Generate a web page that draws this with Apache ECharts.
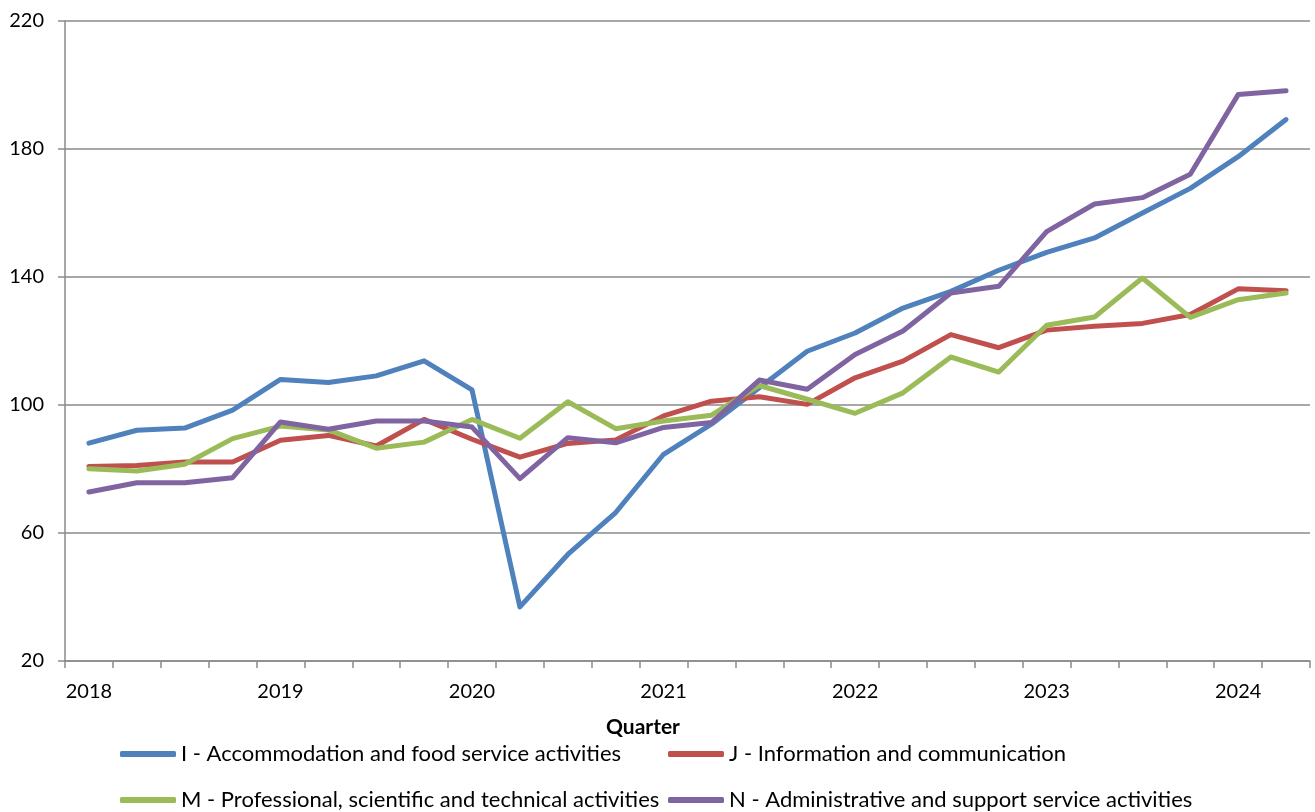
<!DOCTYPE html>
<html>
<head>
<meta charset="utf-8">
<title>Quarterly index</title>
<script src="https://cdn.jsdelivr.net/npm/echarts@6/dist/echarts.min.js"></script>
<style>
    html, body { margin: 0; padding: 0; background: #fff; }
    #main { width: 1315px; height: 812px; }
</style>
</head>
<body>
<div id="main"></div>
<script>
// quarters 2018 Q1 .. 2024 Q2
var quarters = [
    '2018 Q1', '2018 Q2', '2018 Q3', '2018 Q4',
    '2019 Q1', '2019 Q2', '2019 Q3', '2019 Q4',
    '2020 Q1', '2020 Q2', '2020 Q3', '2020 Q4',
    '2021 Q1', '2021 Q2', '2021 Q3', '2021 Q4',
    '2022 Q1', '2022 Q2', '2022 Q3', '2022 Q4',
    '2023 Q1', '2023 Q2', '2023 Q3', '2023 Q4',
    '2024 Q1', '2024 Q2'
];
var seriesNames = [
    'I - Accommodation and food service activities',
    'J - Information and communication',
    'M - Professional, scientific and technical activities',
    'N - Administrative and support service activities'
];
var accommodation = [88.1, 92.1, 92.8, 98.4, 108.0, 107.0, 109.1, 113.8, 104.7, 36.9, 53.3, 66.4, 84.6,
    94.0, 105.4, 116.8, 122.5, 130.3, 135.5, 142.1, 147.7, 152.2, 160.0, 167.7, 177.6, 189.2];
var information = [80.8, 81.1, 82.2, 82.2, 89.0, 90.5, 87.2, 95.5, 89.3, 83.7, 88.0, 89.1, 96.6,
    101.2, 102.6, 100.2, 108.5, 113.7, 122.0, 117.9, 123.4, 124.6, 125.5, 128.3, 136.3, 135.7];
var professional = [80.1, 79.4, 81.5, 89.5, 93.4, 92.2, 86.5, 88.4, 95.5, 89.6, 101.0, 92.6, 95.0,
    96.8, 106.1, 101.8, 97.4, 103.8, 115.0, 110.3, 124.9, 127.5, 139.7, 127.4, 132.9, 135.0];
var administrative = [72.8, 75.7, 75.7, 77.3, 94.7, 92.4, 95.0, 95.0, 93.1, 77.0, 89.8, 88.2, 93.0,
    94.5, 107.8, 104.9, 115.8, 123.1, 135.0, 137.1, 154.2, 162.8, 164.8, 172.1, 197.0, 198.2];
var colors = ['#4F81BD', '#C0504D', '#9BBB59', '#8064A2'];

var myChart = echarts.init(document.getElementById('main'));
var font = 'Lato, "Open Sans", sans-serif';
var axisGray = '#8a8a8a';

function makeLine(name, data, color) {
    return {
        name: name,
        type: 'line',
        data: data,
        symbol: 'none',
        lineStyle: { color: color, width: 5, cap: 'round', join: 'round' },
        itemStyle: { color: color }
    };
}

// one legend per entry, laid out in two columns like the original
function makeLegend(name, left, top) {
    return {
        data: [name],
        left: left,
        top: top,
        icon: 'roundRect',
        itemWidth: 56,
        itemHeight: 6,
        textStyle: { fontFamily: font, fontSize: 22, color: '#000', lineHeight: 26 }
    };
}

var option = {
    animation: false,
    color: colors,
    grid: { left: 65, right: 5, top: 21, bottom: 151, containLabel: false },
    xAxis: {
        type: 'category',
        data: quarters,
        boundaryGap: true,
        axisLine: { show: true, lineStyle: { color: axisGray, width: 1.5 } },
        axisTick: { show: true, interval: 0, length: 7, lineStyle: { color: axisGray, width: 1.5 } },
        axisLabel: {
            interval: 3,
            margin: 21,
            fontFamily: font,
            fontSize: 20,
            color: '#000',
            formatter: function (v) { return v.substring(0, 4); }
        },
        splitLine: { show: false }
    },
    yAxis: {
        type: 'value',
        min: 20,
        max: 220,
        interval: 40,
        axisLine: { show: true, lineStyle: { color: axisGray, width: 1.5 } },
        axisTick: { show: true, length: 7, lineStyle: { color: axisGray, width: 1.5 } },
        axisLabel: { margin: 21, fontFamily: font, fontSize: 20, color: '#000' },
        splitLine: { show: true, lineStyle: { color: axisGray, width: 1.5 } }
    },
    legend: [
        makeLegend(seriesNames[0], 115, 736),
        makeLegend(seriesNames[1], 663, 736),
        makeLegend(seriesNames[2], 115, 782),
        makeLegend(seriesNames[3], 663, 782)
    ],
    graphic: [{
        type: 'text',
        left: 606,
        top: 717,
        style: { text: 'Quarter', font: 'bold 21px ' + font, fill: '#000' }
    }],
    series: [
        makeLine(seriesNames[0], accommodation, colors[0]),
        makeLine(seriesNames[1], information, colors[1]),
        makeLine(seriesNames[2], professional, colors[2]),
        makeLine(seriesNames[3], administrative, colors[3])
    ]
};

myChart.setOption(option);
</script>
</body>
</html>
